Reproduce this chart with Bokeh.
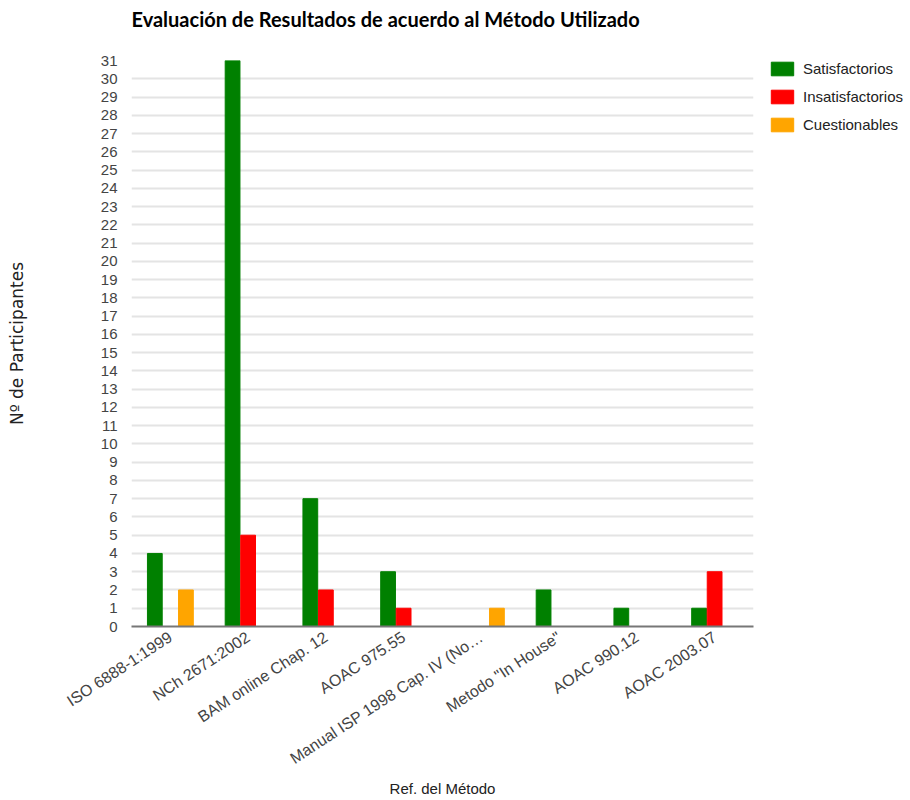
import math
from bokeh.plotting import figure
from bokeh.models import FactorRange, Range1d, FixedTicker, Legend, LegendItem, ColumnDataSource, Title
from bokeh.transform import dodge
from bokeh.embed import file_html
from bokeh.resources import INLINE

methods = ["ISO 6888-1:1999", "NCh 2671:2002", "BAM online Chap. 12", "AOAC 975.55",
           "Manual ISP 1998 Cap. IV (No\u2026", 'Metodo "In House"', "AOAC 990.12", "AOAC 2003.07"]
satisfactorios = [4, 31, 7, 3, 0, 2, 1, 1]
insatisfactorios = [0, 5, 2, 1, 0, 0, 0, 3]
cuestionables = [2, 0, 0, 0, 1, 0, 0, 0]
series_names = ["Satisfactorios", "Insatisfactorios", "Cuestionables"]
y_ticks = list(range(0, 32))

src = ColumnDataSource(dict(m=methods, s=satisfactorios, i=insatisfactorios, c=cuestionables))

p = figure(x_range=FactorRange(*methods), y_range=Range1d(0, 31),
           frame_width=622, frame_height=566, output_backend="svg", toolbar_location=None,
           min_border_left=131, min_border_right=157, min_border_top=60, min_border_bottom=174,
           title="Evaluación de Resultados de acuerdo al Método Utilizado")
p.outline_line_color = None
p.background_fill_color = "white"
p.border_fill_color = "white"

p.title.text_font = "Lato"
p.title.text_font_size = "20px"
p.title.text_font_style = "bold"
p.title.text_color = "#000000"
p.title.align = "left"
p.title.standoff = 0

spacer = Title(text=" ", text_font_size="25px", standoff=0)
p.add_layout(spacer, "above")

colors = ["#008000", "#ff0000", "#ffa500"]
cols = ["s", "i", "c"]
offsets = [-0.2, 0.0, 0.2]
renderers = []
for col, off, colr in zip(cols, offsets, colors):
    r = p.vbar(x=dodge("m", off, range=p.x_range), top=col, bottom=0, width=0.19, source=src,
               fill_color=colr, line_color=colr, line_width=1)
    renderers.append(r)

legend = Legend(items=[LegendItem(label=n, renderers=[r]) for n, r in zip(series_names, renderers)],
                location=(15, 493), orientation="vertical",
                glyph_width=28, glyph_height=17, spacing=11, padding=0, margin=0,
                label_text_font="Liberation Sans", label_text_font_size="15px", label_text_color="#222222",
                label_standoff=7, border_line_color=None, background_fill_alpha=0)
p.add_layout(legend, "right")

p.xgrid.grid_line_color = None
p.ygrid.grid_line_color = "#e4e4e4"
p.ygrid.grid_line_width = 2
p.yaxis.ticker = FixedTicker(ticks=y_ticks)
p.yaxis.axis_line_color = None
p.yaxis.major_tick_line_color = None
p.yaxis.minor_tick_line_color = None
p.yaxis.major_label_standoff = 8
p.yaxis.major_label_text_font = "Liberation Sans"
p.yaxis.major_label_text_font_size = "15px"
p.yaxis.major_label_text_color = "#444444"
p.yaxis.axis_label = "Nº de Participantes"
p.yaxis.axis_label_text_font = "DejaVu Sans"
p.yaxis.axis_label_text_font_size = "17px"
p.yaxis.axis_label_text_font_style = "normal"
p.yaxis.axis_label_text_color = "#222222"
p.yaxis.axis_label_standoff = 71

p.xaxis.major_label_orientation = 0.58
p.xaxis.axis_line_color = "#777777"
p.xaxis.axis_line_width = 2
p.xaxis.major_tick_line_color = None
p.xaxis.minor_tick_line_color = None
p.xaxis.major_label_standoff = 3
p.xaxis.major_label_text_font = "Liberation Sans"
p.xaxis.major_label_text_font_size = "16px"
p.xaxis.major_label_text_color = "#444444"
p.xaxis.axis_label = "Ref. del Método"
p.xaxis.axis_label_text_font = "Liberation Sans"
p.xaxis.axis_label_text_font_size = "15px"
p.xaxis.axis_label_text_font_style = "normal"
p.xaxis.axis_label_text_color = "#222222"
p.xaxis.axis_label_standoff = 3

open("out.html", "w").write(file_html(p, INLINE))
